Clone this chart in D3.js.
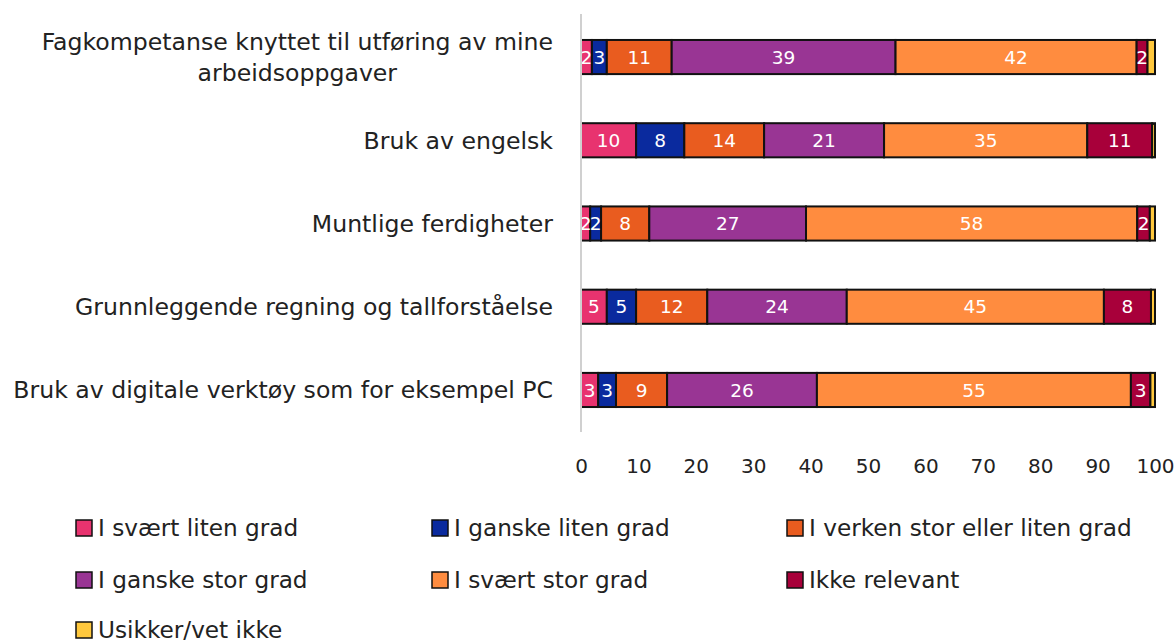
<!DOCTYPE html>
<html>
<head>
<meta charset="utf-8">
<script src="https://cdn.jsdelivr.net/npm/d3@7"></script>
<style>
  body { margin: 0; background: #fff; }
  svg { font-family: "DejaVu Sans", sans-serif; }
</style>
</head>
<body>
<svg id="chart" width="1176" height="643"></svg>
<script>
const categories = [
    ["Fagkompetanse knyttet til utføring av mine", "arbeidsoppgaver"],
    ["Bruk av engelsk "],
    ["Muntlige ferdigheter"],
    ["Grunnleggende regning og tallforståelse"],
    ["Bruk av digitale verktøy som for eksempel PC"]
];
const seriesNames = [
    "I svært liten grad", "I ganske liten grad", "I verken stor eller liten grad",
    "I ganske stor grad", "I svært stor grad", "Ikke relevant", "Usikker/vet ikke"
];
const colors = ["#e8336f", "#0a2a9e", "#e95c1f", "#993594", "#ff8c3f", "#a8003a", "#ffc83d"];
// percent per category, one array per series
const sværtLiten = [1.9, 9.6, 1.6, 4.5, 3.0];
const ganskeLiten = [2.6, 8.4, 1.9, 5.1, 3.1];
const verken = [11.3, 13.9, 8.4, 12.4, 8.9];
const ganskeStor = [39.0, 20.9, 27.3, 24.3, 26.1];
const sværtStor = [42.0, 35.4, 57.7, 44.8, 54.7];
const ikkeRelevant = [1.9, 11.3, 2.2, 8.2, 3.4];
const usikker = [1.3, 0.5, 0.9, 0.7, 0.8];
const seriesValues = [sværtLiten, ganskeLiten, verken, ganskeStor, sværtStor, ikkeRelevant, usikker];
const xTicks = [0, 10, 20, 30, 40, 50, 60, 70, 80, 90, 100];

const svg = d3.select("#chart");
const margin = { top: 15, left: 581, right: 21, plotBottom: 432 };

const x = d3.scaleLinear().domain([0, 100]).range([margin.left, 1176 - margin.right]);
const y = d3.scaleBand()
    .domain(d3.range(categories.length))
    .range([margin.top, margin.plotBottom])
    .paddingInner(0.59)
    .paddingOuter(0.3);

// stacked data
const rows = categories.map((c, i) => {
    let acc = 0;
    return seriesValues.map((vals, s) => {
        const seg = { cat: i, s, x0: acc, x1: acc + vals[i], v: vals[i] };
        acc += vals[i];
        return seg;
    });
}).flat();

const fmt = d3.format(".0f");

svg.append("g")
    .selectAll("rect")
    .data(rows)
    .join("rect")
    .attr("x", d => x(d.x0))
    .attr("y", d => y(d.cat))
    .attr("width", d => x(d.x1) - x(d.x0))
    .attr("height", y.bandwidth())
    .attr("fill", d => colors[d.s])
    .attr("stroke", "#111")
    .attr("stroke-width", 2);

svg.append("g")
    .selectAll("text")
    .data(rows.filter(d => d.s < 6))
    .join("text")
    .attr("x", d => (x(d.x0) + x(d.x1)) / 2)
    .attr("y", d => y(d.cat) + y.bandwidth() / 2)
    .attr("dy", "0.36em")
    .attr("text-anchor", "middle")
    .attr("fill", "#fff")
    .attr("font-size", 18.5)
    .text(d => fmt(d.v));

// y axis line
svg.append("line")
    .attr("x1", x(0)).attr("x2", x(0))
    .attr("y1", 14).attr("y2", margin.plotBottom)
    .attr("stroke", "#d0d0d0")
    .attr("stroke-width", 2);

// x axis labels
const xAxis = svg.append("g")
    .attr("transform", `translate(0,459)`)
    .call(d3.axisBottom(x).tickValues(xTicks).tickSize(0).tickPadding(0));
xAxis.select(".domain").remove();
xAxis.selectAll("text")
    .attr("font-size", 20)
    .attr("font-family", "DejaVu Sans, sans-serif")
    .attr("fill", "#222");

// category labels (block right-aligned, lines centred inside block)
const labelRight = 553;
const lineH = 31;
const catG = svg.append("g").attr("font-size", 23.6).attr("fill", "#222");
categories.forEach((lines, i) => {
    const cy = y(i) + y.bandwidth() / 2;
    const g = catG.append("g");
    const texts = lines.map((t, k) => g.append("text")
        .attr("y", cy + (k - (lines.length - 1) / 2) * lineH)
        .attr("dy", "0.35em")
        .attr("text-anchor", "middle")
        .text(t));
    const w = d3.max(texts, t => t.node().getComputedTextLength());
    texts.forEach(t => t.attr("x", labelRight - w / 2));
});

// legend
const legendX = [76, 432, 787];
const legendY = [528, 580, 630];
const legend = svg.append("g").attr("font-size", 23.2).attr("fill", "#222");
seriesNames.forEach((name, i) => {
    const lx = legendX[i % 3];
    const ly = legendY[Math.floor(i / 3)];
    legend.append("rect")
        .attr("x", lx).attr("y", ly - 8)
        .attr("width", 16).attr("height", 16)
        .attr("fill", colors[i])
        .attr("stroke", "#111")
        .attr("stroke-width", 1.5);
    legend.append("text")
        .attr("x", lx + 22).attr("y", ly)
        .attr("dy", "0.35em")
        .text(name);
});
</script>
</body>
</html>
